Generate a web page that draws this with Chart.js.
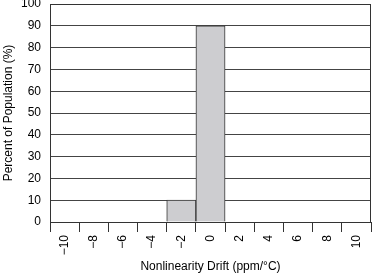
<!DOCTYPE html>
<html>
<head>
<meta charset="utf-8">
<script src="https://cdn.jsdelivr.net/npm/chart.js@4/dist/chart.umd.min.js"></script>
<style>
  body { margin: 0; background: #fff; }
  canvas { display: block; }
</style>
</head>
<body>
<canvas id="histChart" width="372" height="274"></canvas>
<script>
// histogram data
const categories = ["\u221210", "\u22128", "\u22126", "\u22124", "\u22122", "0", "2", "4", "6", "8", "10"];
const population = [0, 0, 0, 0, 10, 90, 0, 0, 0, 0, 0];
const yMin = 0;
const yMax = 100;
const yStep = 10;

const font = { family: "'Liberation Sans', Arial, sans-serif", size: 12 };

// frame around plot area (right edge isn't drawn by the axes)
const frame = {
  id: "frame",
  afterDraw(chart) {
    const { ctx, chartArea: a } = chart;
    ctx.save();
    ctx.strokeStyle = "#333";
    ctx.lineWidth = 1;
    ctx.strokeRect(a.left + 0.5, a.top + 0.5, a.right - a.left - 1, a.bottom - a.top);
    ctx.restore();
  }
};

const ctx = document.getElementById("histChart").getContext("2d");
new Chart(ctx, {
  type: "bar",
  data: {
    labels: categories,
    datasets: [{
      data: population,
      backgroundColor: "#cdcdd0",
      borderColor: "#333",
      borderWidth: 1,
      borderSkipped: "start",
      barPercentage: 1,
      categoryPercentage: 1
    }]
  },
  options: {
    responsive: false,
    animation: false,
    layout: { padding: { top: 4, right: 1, left: 0, bottom: 0 } },
    plugins: {
      legend: { display: false },
      tooltip: { enabled: false }
    },
    scales: {
      x: {
        offset: true,
        grid: {
          offset: true,
          drawOnChartArea: false,
          drawTicks: true,
          tickLength: 10,
          color: "#333"
        },
        border: { color: "#333" },
        ticks: {
          color: "#000",
          font: font,
          minRotation: 90,
          maxRotation: 90,
          padding: 3,
          autoSkip: false
        },
        title: {
          display: true,
          text: "Nonlinearity Drift (ppm/\u00b0C)",
          color: "#000",
          font: font,
          padding: { top: 0, bottom: 0 }
        },
        afterFit(scale) {
          scale.height = 52;
          scale.paddingLeft = 0;
          scale.paddingRight = 0;
        }
      },
      y: {
        min: yMin,
        max: yMax,
        grid: {
          drawTicks: false,
          color: "#444"
        },
        border: { color: "#333" },
        ticks: {
          stepSize: yStep,
          color: "#000",
          font: font,
          padding: 9
        },
        title: {
          display: true,
          text: "Percent of Population (%)",
          color: "#000",
          font: font,
          padding: { top: 1, bottom: 0 }
        },
        afterFit(scale) {
          scale.width = 50;
          scale.paddingTop = 0;
          scale.paddingBottom = 0;
        }
      }
    }
  },
  plugins: [frame]
});
</script>
</body>
</html>
